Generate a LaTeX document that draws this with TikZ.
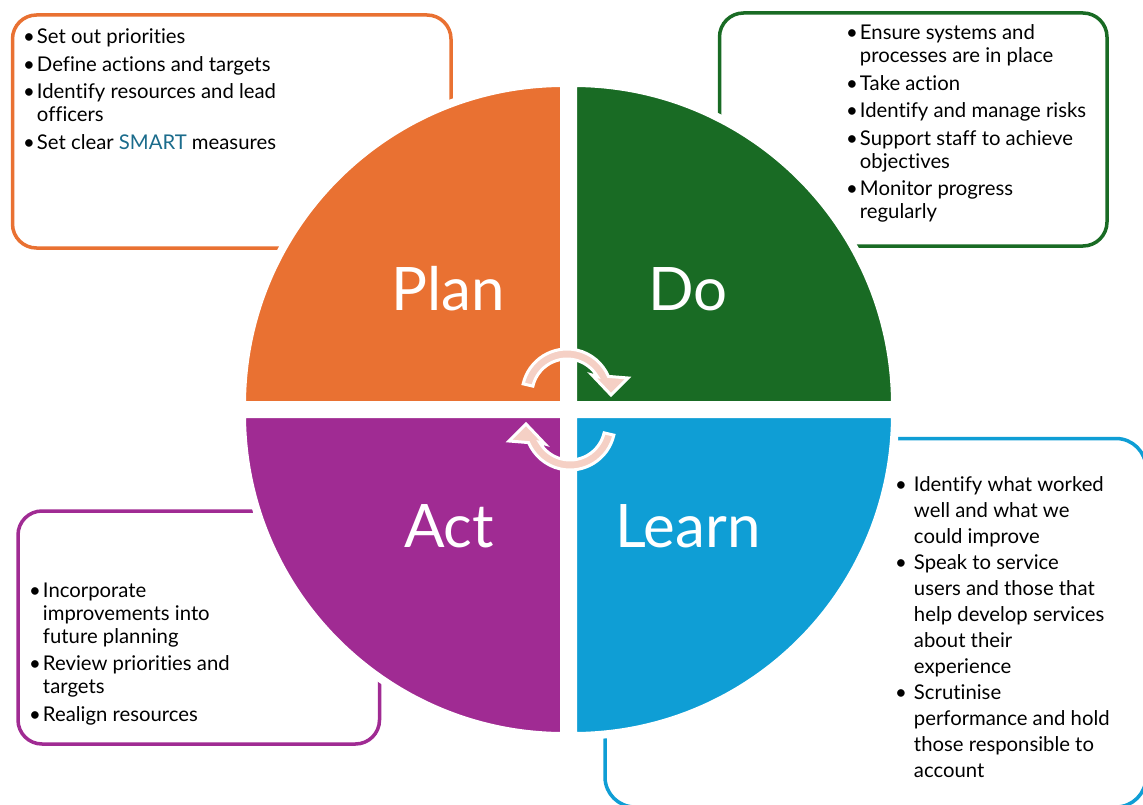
\documentclass[tikz,border=0pt]{standalone}
\usepackage{fontspec}
\setmainfont{Lato}[Ligatures=NoCommon]
\definecolor{planorange}{HTML}{E97132}
\definecolor{dogreen}{HTML}{196B24}
\definecolor{learnblue}{HTML}{0F9ED5}
\definecolor{actpurple}{HTML}{A02B93}
\definecolor{smartblue}{HTML}{1B6C8C}
\definecolor{arrowpink}{HTML}{F5D0C5}
\begin{document}
\begin{tikzpicture}[x=1pt,y=-1pt,
    box/.style={line width=3.5pt, rounded corners=24pt},
    quarter/.style={draw=white, line width=8pt, line join=miter},
    bigword/.style={text=white, anchor=base, inner sep=0pt, font=\fontsize{60}{60}\selectfont},
    list/.style={anchor=base west, inner sep=0pt, font=\fontsize{20.3}{23}\selectfont},
    turn/.style={fill=arrowpink, draw=white, line width=3pt, line join=miter}]
    % canvas
    \clip (0,0) rectangle (1143,805);
    \fill[white] (0,0) rectangle (1143,805);
    % the four text boxes, behind the circle
    \draw[box, planorange] (12.5,15) rectangle (451,248);
    \draw[box, dogreen] (719.5,13) rectangle (1107,246);
    \draw[box, actpurple] (18,511) rectangle (379.5,744);
    \draw[box, learnblue, rounded corners=30pt] (605,438.5) rectangle (1146,807);
    % quarters of the circle
    \draw[quarter, fill=planorange] (564,405) -- (242,405) arc[start angle=180, end angle=270, radius=322] -- cycle;
    \draw[quarter, fill=dogreen] (573,405) -- (573,83) arc[start angle=270, end angle=360, radius=322] -- cycle;
    \draw[quarter, fill=learnblue] (573,414) -- (895,414) arc[start angle=0, end angle=90, radius=322] -- cycle;
    \draw[quarter, fill=actpurple] (564,414) -- (564,736) arc[start angle=90, end angle=180, radius=322] -- cycle;
    % big words
    \node[bigword] (plan) at (448,310) {Plan};
    \node[bigword] (do) at (688,310) {Do};
    \node[bigword] (act) at (449,547) {Act};
    \node[bigword] (learn) at (688,547) {Learn};
    % turning arrows in the middle
    \begin{scope}[shift={(567,394)}]
        \draw[turn] (-167:45) arc[start angle=-167, end angle=-23, radius=45] -- (61,-16) -- (44,1) -- (25,-19)
            -- (-30:35) arc[start angle=-30, end angle=-167, radius=35] -- cycle;
    \end{scope}
    \begin{scope}[shift={(570,425)}, rotate=180]
        \draw[turn] (-167:45) arc[start angle=-167, end angle=-23, radius=45] -- (61,-16) -- (44,1) -- (25,-19)
            -- (-30:35) arc[start angle=-30, end angle=-167, radius=35] -- cycle;
    \end{scope}
    % lists
    \node[list] (plantext) at (23,44) {\begin{tabular}[t]{@{}l@{\hspace{2pt}}l@{}}
        \textbullet & Set out priorities\\[4.5pt]
        \textbullet & Define actions and targets\\[4.5pt]
        \textbullet & Identify resources and lead\\
                    & officers\\[4.5pt]
        \textbullet & Set clear \textcolor{smartblue}{SMART} measures
    \end{tabular}};
    \node[list] (dotext) at (846,40) {\begin{tabular}[t]{@{}l@{\hspace{2pt}}l@{}}
        \textbullet & Ensure systems and\\
                    & processes are in place\\[4.5pt]
        \textbullet & Take action\\[4.5pt]
        \textbullet & Identify and manage risks\\[4.5pt]
        \textbullet & Support staff to achieve\\
                    & objectives\\[4.5pt]
        \textbullet & Monitor progress\\
                    & regularly
    \end{tabular}};
    \node[list] (acttext) at (29,597) {\begin{tabular}[t]{@{}l@{\hspace{2pt}}l@{}}
        \textbullet & Incorporate\\
                    & improvements into\\
                    & future planning\\[4.5pt]
        \textbullet & Review priorities and\\
                    & targets\\[4.5pt]
        \textbullet & Realign resources
    \end{tabular}};
    \node[list, font=\fontsize{20.3}{26}\selectfont] (learntext) at (895,491) {\begin{tabular}[t]{@{}l@{\hspace{7pt}}l@{}}
        \textbullet & Identify what worked\\
                    & well and what we\\
                    & could improve\\
        \textbullet & Speak to service\\
                    & users and those that\\
                    & help develop services\\
                    & about their\\
                    & experience\\
        \textbullet & Scrutinise\\
                    & performance and hold\\
                    & those responsible to\\
                    & account
    \end{tabular}};
\end{tikzpicture}
\end{document}
